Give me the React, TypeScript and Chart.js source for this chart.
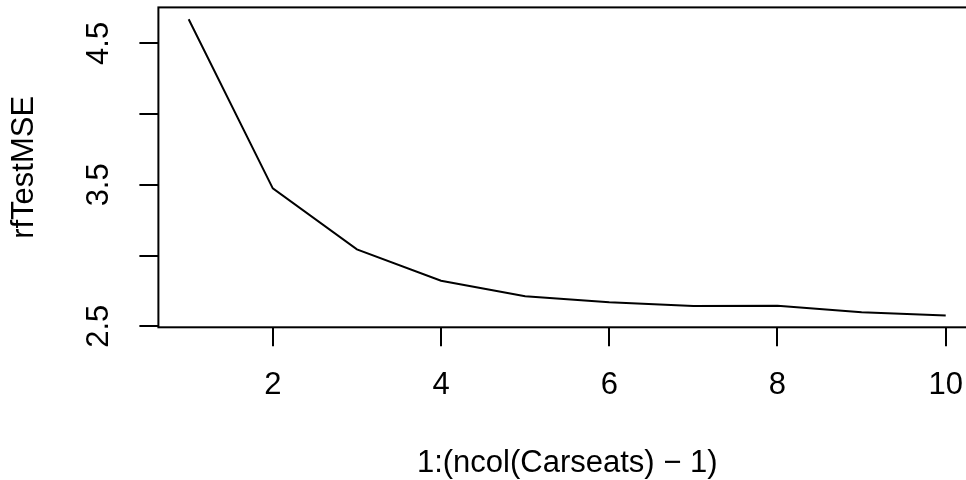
import { useEffect, useRef } from "react";
import { Chart, registerables } from "chart.js";

Chart.register(...registerables);

// Number of predictors tried at each split
const predictorCounts = [1, 2, 3, 4, 5, 6, 7, 8, 9, 10];
// Random-forest test MSE for each predictor count
const rfTestMSE = [4.67, 3.475, 3.044, 2.822, 2.712, 2.67, 2.643, 2.645, 2.6, 2.577];

const xTickValues = [2, 4, 6, 8, 10];
const yTickValues = [2.5, 3, 3.5, 4, 4.5];
const yLabelledTicks = [2.5, 3.5, 4.5];

const xTitle = "1:(ncol(Carseats) \u2212 1)";
const yTitle = "rfTestMSE";

const FONT = "'Liberation Sans', Arial, Helvetica, sans-serif";

// Draws the full rectangle around the plotting region
const plotBox = {
  id: "plotBox",
  afterDraw(chart: any) {
    const { ctx, chartArea: a } = chart;
    ctx.save();
    ctx.strokeStyle = "#000";
    ctx.lineWidth = 2;
    ctx.strokeRect(a.left, a.top, a.right - a.left, a.bottom - a.top);
    ctx.restore();
  },
};

export default function App() {
  const canvasRef = useRef<HTMLCanvasElement | null>(null);

  useEffect(() => {
    const canvas = canvasRef.current;
    if (!canvas) return;
    const chart = new Chart(canvas, {
      type: "line",
      data: {
        datasets: [
          {
            data: predictorCounts.map((x, i) => ({ x, y: rfTestMSE[i] })),
            borderColor: "#000",
            borderWidth: 2,
            pointRadius: 0,
            tension: 0,
            fill: false,
          },
        ],
      },
      options: {
        responsive: false,
        animation: false,
        devicePixelRatio: 1,
        layout: { padding: { left: 0, top: 7.4, right: 24, bottom: 0 } },
        plugins: { legend: { display: false }, tooltip: { enabled: false } },
        scales: {
          x: {
            type: "linear",
            min: 0.64,
            max: 10.36,
            afterFit: (s: any) => {
              s.height = 152.7;
              s.paddingLeft = 0;
              s.paddingRight = 0;
            },
            afterBuildTicks: (s: any) => {
              s.ticks = xTickValues.map((value) => ({ value }));
            },
            border: { display: false },
            grid: {
              drawOnChartArea: false,
              drawTicks: true,
              tickLength: 19,
              color: "#000",
              lineWidth: 2,
            },
            ticks: {
              autoSkip: false,
              maxRotation: 0,
              minRotation: 0,
              padding: 20.7,
              color: "#000",
              font: { family: FONT, size: 31 },
              callback: (v: any) => String(v),
            },
            title: {
              display: true,
              text: xTitle,
              color: "#000",
              font: { family: FONT, size: 31 },
              padding: { top: 0, bottom: -2 },
            },
          },
          y: {
            type: "linear",
            min: 2.493,
            max: 4.754,
            afterFit: (s: any) => {
              s.width = 158.4;
              s.paddingTop = 0;
              s.paddingBottom = 0;
            },
            afterBuildTicks: (s: any) => {
              s.ticks = yTickValues.map((value) => ({ value }));
            },
            border: { display: false },
            grid: {
              drawOnChartArea: false,
              drawTicks: true,
              tickLength: 19,
              color: "#000",
              lineWidth: 2,
            },
            ticks: {
              autoSkip: false,
              minRotation: 90,
              maxRotation: 90,
              crossAlign: "center",
              padding: 18,
              color: "#000",
              font: { family: FONT, size: 31 },
              callback: (v: any) =>
                yLabelledTicks.includes(Number(v)) ? Number(v).toFixed(1) : "",
            },
            title: {
              display: true,
              text: yTitle,
              color: "#000",
              font: { family: FONT, size: 31 },
              padding: { top: 5.7, bottom: 0 },
            },
          },
        },
      },
      plugins: [plotBox],
    });
    return () => chart.destroy();
  }, []);

  return (
    <div
      style={{
        position: "fixed",
        left: 0,
        top: 0,
        width: 966,
        height: 480,
        overflow: "hidden",
        background: "#fff",
      }}
    >
      <canvas ref={canvasRef} width={1000} height={480} style={{ display: "block" }} />
    </div>
  );
}
